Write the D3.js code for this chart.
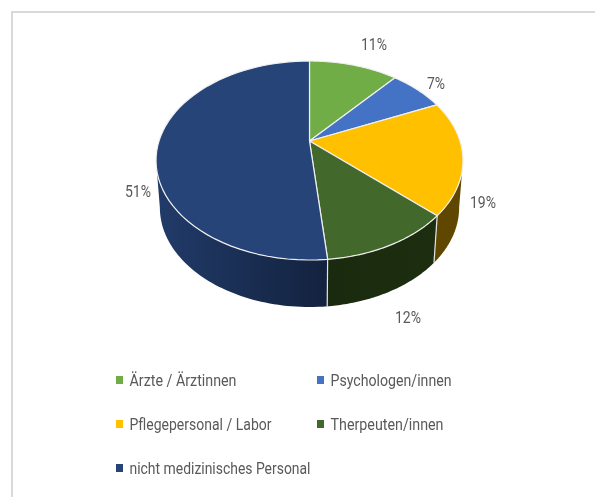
<!DOCTYPE html>
<html><head><meta charset="utf-8">
<script src="https://cdn.jsdelivr.net/npm/d3@7"></script>
<style>html,body{margin:0;padding:0;background:#fff}svg{display:block;filter:blur(0.45px)}
text{font-family:Roboto,sans-serif;fill:#595959}</style></head>
<body><div id="c"></div>
<script>
const categories = ["Ärzte / Ärztinnen","Psychologen/innen","Pflegepersonal / Labor","Therpeuten/innen","nicht medizinisches Personal"];
const shares = [11.3,7.0,18.5,11.6,51.49];
const colors = ["#70ad47","#4472c4","#ffc000","#43682b","#264478"];
const wallFrom = ["#3d5f27","#25406f","#5f4700","#1a2a0e","#213b69"];
const wallTo = ["#2c451c","#1a2e50","#5f4700","#1d2e10","#13223e"];

const W=595,H=497;
const svg=d3.select("#c").append("svg").attr("width",W).attr("height",H);
const defs=svg.append("defs");

const frame=d3.path(); frame.moveTo(12,H); frame.lineTo(12,12); frame.lineTo(W,12);
svg.append("path").attr("fill","none").attr("stroke","#d9d9d9").attr("stroke-width",2).attr("d",frame.toString());

// perspective projection of a disc
const apex={x:309.5,y:141}, k=0.196, B=150.5, A=95.7;
function rim(t,sx=1,dy=0){const w=1+k*Math.cos(t);
  return [apex.x+sx*B*Math.sin(t)/w, apex.y+dy-A*Math.cos(t)/w];}
const bot=t=>rim(t,0.975,47);
const line=d3.line();
const arcs=d3.pie().sort(null).value(d=>d)(shares);
const samp=(a,b)=>d3.range(0,61).map(i=>a+(b-a)*i/60);
// angles at which the disc is widest: the visible wall lies between them
const tR=Math.acos(-k), tL=2*Math.PI-tR;

arcs.forEach((a,i)=>{
  const lo=Math.max(a.startAngle,tR), hi=Math.min(a.endAngle,tL);
  if(hi<=lo) return;
  const g=defs.append("linearGradient").attr("id","w"+i).attr("gradientUnits","userSpaceOnUse")
    .attr("x1",rim(hi)[0]).attr("x2",rim(lo)[0]).attr("y1",0).attr("y2",0);
  g.append("stop").attr("offset",0).attr("stop-color",wallFrom[i]);
  g.append("stop").attr("offset",1).attr("stop-color",wallTo[i]);
  const ts=samp(lo,hi);
  const pts=ts.map(t=>rim(t)).concat(ts.slice().reverse().map(bot));
  svg.append("path").attr("d",line(pts)+"Z").attr("fill",`url(#w${i})`);
  if(a.startAngle>tR){
    svg.append("path").attr("d",line([rim(a.startAngle),bot(a.startAngle)]))
      .attr("stroke","#e4e4e4").attr("stroke-width",1.2).attr("fill","none");
  }
});
arcs.forEach((a,i)=>{
  const pts=[[apex.x,apex.y]].concat(samp(a.startAngle,a.endAngle).map(t=>rim(t)));
  svg.append("path").attr("d",line(pts)+"Z").attr("fill",colors[i])
    .attr("stroke","#f0f0f0").attr("stroke-width",1.2).attr("stroke-linejoin","round");
});

const labelPos=[[374,44],[436,83],[483,202],[408,317],[138,191]];
arcs.forEach((a,i)=>{
  const s=d3.format(".0f")(shares[i]);
  svg.append("text").attr("x",labelPos[i][0]).attr("y",labelPos[i][1]).attr("dy","0.35em")
    .attr("text-anchor","middle").attr("font-size",16).attr("textLength",s.length==1?18:26)
    .attr("lengthAdjust","spacingAndGlyphs").text(s+"%");
});

const legendPos=[[116,380],[317,380],[116,424],[317,424],[116,468]];
const legendW=[107,121,142,113,181];
categories.forEach((c,i)=>{
  svg.append("rect").attr("x",legendPos[i][0]).attr("y",legendPos[i][1]-4).attr("width",7).attr("height",8).attr("fill",colors[i]);
  svg.append("text").attr("x",legendPos[i][0]+13.5).attr("y",legendPos[i][1]).attr("dy","0.35em")
    .attr("font-size",16).attr("textLength",legendW[i]).attr("lengthAdjust","spacingAndGlyphs").text(c);
});
</script></body></html>
